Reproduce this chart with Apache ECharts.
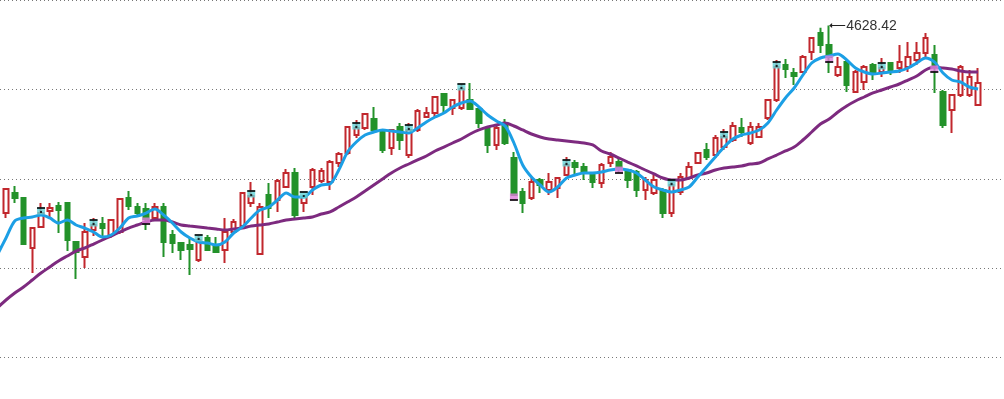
<!DOCTYPE html>
<html><head><meta charset="utf-8">
<script src="https://cdn.jsdelivr.net/npm/echarts@6/dist/echarts.min.js"></script>
<style>html,body{margin:0;padding:0;background:#fff}#c{width:1004px;height:399px}</style>
</head><body><div id="c"></div>
<script>
// one candle per trading day, [open, close, lowest, highest]; the first one is only partly in view
const ohlc = [
[4206.9,4233.0,4196.8,4241.1],
[4251.1,4299.5,4241.1,4301.5],[4291.4,4281.3,4271.3,4305.5],[4281.3,4188.7,4186.7,4283.4],[4180.7,4220.9,4130.3,4223.0],
[4223.0,4251.1,4220.9,4271.3],[4255.2,4261.2,4243.1,4271.3],[4265.2,4257.2,4210.9,4273.3],[4271.3,4196.8,4174.6,4273.3],
[4192.8,4172.6,4118.3,4194.0],[4162.6,4212.9,4140.4,4231.0],[4216.9,4227.0,4204.8,4241.1],[4229.0,4220.9,4202.8,4243.1],
[4206.9,4237.0,4200.8,4239.0],[4212.9,4279.3,4208.9,4281.3],[4281.3,4265.2,4257.2,4295.4],[4263.2,4251.1,4247.1,4271.3],
[4259.2,4239.1,4216.9,4271.3],[4241.1,4263.2,4237.0,4271.3],[4263.2,4192.8,4162.6,4271.3],[4206.9,4190.7,4170.6,4216.9],
[4190.7,4176.6,4156.5,4192.8],[4186.7,4178.7,4126.3,4200.8],[4156.5,4196.8,4152.5,4204.8],[4200.8,4176.6,4174.6,4206.9],
[4186.7,4172.6,4170.6,4202.8],[4176.6,4212.9,4150.5,4241.1],[4212.9,4233.0,4210.9,4239.1],[4225.0,4291.4,4220.9,4291.4],
[4271.3,4285.4,4263.2,4313.6],[4168.6,4263.2,4166.6,4271.3],[4287.4,4261.2,4241.1,4311.5],[4277.3,4315.6,4253.2,4319.6],
[4303.5,4331.7,4301.5,4339.7],[4331.7,4247.1,4241.1,4341.7],[4271.3,4283.4,4253.2,4285.4],[4303.5,4337.7,4287.4,4341.7],
[4315.6,4335.7,4311.5,4341.7],[4313.6,4353.8,4297.5,4357.9],[4351.8,4369.9,4343.8,4374.0],[4371.9,4424.3,4367.9,4426.3],
[4408.2,4422.3,4402.2,4438.4],[4422.3,4450.5,4418.3,4452.5],[4440.4,4418.3,4414.2,4464.6],[4414.2,4378.0,4371.9,4418.3],
[4382.0,4418.3,4367.9,4420.3],[4424.3,4398.1,4378.0,4432.4],[4367.9,4418.3,4361.9,4432.4],[4418.3,4456.5,4414.2,4460.5],
[4444.4,4452.5,4442.4,4464.6],[4452.5,4484.7,4444.4,4486.7],[4490.7,4468.6,4452.5,4492.7],[4462.6,4478.7,4448.5,4480.7],
[4462.6,4500.8,4458.5,4510.9],[4478.7,4460.5,4458.5,4512.9],[4460.5,4432.4,4422.3,4462.6],[4422.3,4388.1,4371.9,4424.3],
[4388.1,4422.3,4378.0,4428.3],[4428.3,4392.1,4388.1,4440.4],[4361.9,4287.4,4285.4,4374.0],[4293.4,4271.3,4251.1,4301.5],
[4281.3,4313.6,4277.3,4321.6],[4317.6,4307.5,4291.4,4321.6],[4297.5,4313.6,4287.4,4331.7],[4301.5,4321.6,4281.3,4323.6],
[4327.7,4347.8,4325.7,4363.9],[4351.8,4343.8,4327.7,4357.9],[4343.8,4331.7,4317.6,4351.8],[4327.7,4313.6,4301.5,4333.7],
[4311.5,4347.8,4301.5,4351.8],[4351.8,4363.9,4343.8,4374.0],[4353.8,4341.7,4331.7,4359.9],[4337.7,4317.6,4301.5,4339.7],
[4333.7,4297.5,4283.4,4337.7],[4297.5,4317.6,4277.3,4323.6],[4291.4,4317.6,4287.4,4327.7],[4297.5,4251.1,4241.1,4301.5],
[4251.1,4307.5,4243.1,4313.6],[4293.4,4323.6,4287.4,4331.7],[4321.6,4343.8,4317.6,4353.8],[4351.8,4371.9,4349.8,4374.0],
[4378.0,4363.9,4357.9,4392.1],[4367.9,4402.2,4361.9,4408.2],[4384.0,4404.2,4378.0,4420.3],[4398.1,4426.3,4394.1,4434.4],
[4422.3,4414.2,4404.2,4442.4],[4392.1,4424.3,4388.1,4434.4],[4404.2,4424.3,4402.2,4432.4],[4442.4,4478.7,4438.4,4480.7],
[4478.7,4545.1,4474.6,4559.2],[4549.1,4541.1,4523.0,4561.2],[4533.0,4527.0,4508.9,4543.1],[4535.0,4565.2,4533.0,4569.3],
[4575.3,4603.5,4559.2,4605.5],[4613.6,4589.4,4573.3,4624.0],[4589.4,4565.2,4533.0,4628.42],[4529.0,4545.1,4525.0,4565.2],
[4555.2,4508.9,4494.8,4559.2],[4494.8,4535.0,4492.8,4539.1],[4514.9,4545.1,4498.8,4549.1],[4549.1,4533.0,4518.9,4553.2],
[4535.0,4543.1,4525.0,4563.2],[4553.2,4535.0,4529.0,4555.2],[4543.1,4555.2,4533.0,4589.4],[4545.1,4565.2,4535.0,4595.4],
[4559.2,4573.3,4549.1,4595.4],[4573.3,4603.5,4563.2,4613.6],[4569.3,4545.1,4492.8,4589.4],[4494.8,4428.3,4422.3,4498.8],
[4458.5,4488.7,4412.2,4490.7],[4488.7,4545.1,4484.7,4549.1],[4488.7,4525.0,4484.7,4539.1],[4468.6,4512.9,4466.6,4543.1]
];
const maShort = [
4166.6,4200.8,4235.0,4241.1,4243.1,4247.1,4241.1,4231.0,4237.0,4227.0,4220.9,4212.9,4202.8,4206.9,4220.9,4241.1,
4245.1,4251.1,4259.2,4247.1,4231.0,4212.9,4200.8,4192.8,4190.7,4186.7,4192.8,4210.9,4223.0,4241.1,4257.2,4263.2,
4277.3,4291.4,4283.4,4283.4,4297.5,4307.5,4309.5,4337.7,4374.0,4394.1,4408.2,4414.2,4418.3,4416.2,4414.2,4412.2,
4422.3,4434.4,4444.4,4452.5,4464.6,4472.6,4476.6,4464.6,4448.5,4436.4,4426.3,4392.1,4347.8,4323.6,4307.5,4293.4,
4303.5,4321.6,4327.7,4331.7,4331.7,4333.7,4337.7,4339.7,4337.7,4331.7,4317.6,4303.5,4297.5,4293.4,4297.5,4303.5,
4323.6,4343.8,4363.9,4384.0,4400.1,4408.2,4412.2,4418.3,4432.4,4458.5,4482.7,4502.8,4529.0,4553.2,4563.2,4567.2,
4571.3,4559.2,4543.1,4535.0,4531.0,4533.0,4535.0,4537.0,4543.1,4553.2,4563.2,4555.2,4533.0,4518.9,4514.9,4504.8,4500.8
];
const maLong = [
4059.9,4076.0,4090.1,4102.2,4116.2,4130.3,4142.4,4154.5,4164.6,4174.6,4180.7,4188.7,4196.8,4204.8,4212.9,4220.9,
4227.0,4233.0,4237.0,4237.0,4233.0,4227.0,4225.0,4223.0,4220.9,4218.9,4216.9,4218.9,4220.9,4225.0,4227.0,4229.0,
4233.0,4237.0,4239.1,4241.1,4243.1,4249.1,4253.2,4263.2,4273.3,4283.4,4295.4,4307.5,4319.6,4331.7,4341.7,4349.8,
4357.9,4365.9,4376.0,4384.0,4392.1,4400.1,4410.2,4418.3,4424.3,4428.3,4432.4,4426.3,4418.3,4410.2,4404.2,4400.1,
4398.1,4396.1,4394.1,4392.1,4388.1,4376.0,4369.9,4361.9,4353.8,4345.8,4337.7,4329.7,4321.6,4317.6,4317.6,4321.6,
4327.7,4331.7,4337.7,4341.7,4343.8,4345.8,4349.8,4351.8,4359.9,4367.9,4376.0,4384.0,4398.1,4414.2,4430.3,4440.4,
4454.5,4466.6,4476.6,4484.7,4492.8,4498.8,4504.8,4510.9,4518.9,4527.0,4539.1,4545.1,4543.1,4541.1,4537.0,4535.0,4535.0
];
// positions (in ohlc) of the signal markers
const upSignals = [5, 11, 23, 29, 35, 41, 47, 53, 65, 77, 83, 89, 101];
const downSignals = [17, 59, 71, 95, 107];
// y axis ticks
const yMin = 3960, yMax = 4680, yStep = 180;
// visible day window (first candle partly cut)
const dayFrom = -0.685, dayTo = 113.96;

const RED = '#c1272d', GREEN = '#23922a';
const day = i => i - 1;
const candles = ohlc.map((d, i) => [day(i), d[0], d[1], d[2], d[3]]);
const shortPts = maShort.map((v, i) => [day(i), v]);
const longPts = maLong.map((v, i) => [day(i), v]);
const upPts = upSignals.map(i => [day(i), ohlc[i][1]]);
const downPts = downSignals.map(i => [day(i), ohlc[i][1]]);

const chart = echarts.init(document.getElementById('c'), null, {renderer: 'canvas'});
chart.setOption({
  animation: false,
  backgroundColor: '#fff',
  grid: {left: 0, right: 0, top: -1, bottom: 41.4},
  xAxis: {type: 'value', min: dayFrom, max: dayTo, show: false, splitLine: {show: false}},
  yAxis: {
    type: 'value', min: yMin, max: yMax, interval: yStep,
    axisLine: {show: false}, axisTick: {show: false}, axisLabel: {show: false},
    splitLine: {show: true, lineStyle: {color: '#777', type: [1, 3], width: 1}}
  },
  series: [
    {
      type: 'candlestick', data: candles, barWidth: 5, clip: true,
      encode: {x: 0, y: [1, 2, 3, 4]},
      itemStyle: {color: '#ffffff', color0: GREEN, borderColor: RED, borderColor0: GREEN, borderWidth: 2},
      markPoint: {
        data: [{type: 'max', valueDim: 'highest'}],
        symbol: 'path://M0,3 L4,0 L4,2.4 L22,2.4 L22,3.6 L4,3.6 L4,6 Z',
        symbolSize: [16, 5], symbolOffset: [8, 0], symbolKeepAspect: false,
        itemStyle: {color: '#222'},
        label: {show: true, position: 'right', distance: 1, offset: [0, 1], color: '#333', fontSize: 14,
                fontFamily: 'Liberation Sans, Arial, sans-serif',
                formatter: p => p.value}
      },
      z: 2
    },
    {type: 'line', data: longPts, smooth: 0.3, showSymbol: false, lineStyle: {color: '#7d2a7f', width: 3}, z: 3},
    {type: 'line', data: shortPts, smooth: 0.3, showSymbol: false, lineStyle: {color: '#1c9fe5', width: 3}, z: 4},
    {type: 'scatter', data: upPts, symbol: 'rect', symbolSize: [8, 7], symbolOffset: [0, -2], itemStyle: {color: '#63d2d6'}, z: 5},
    {type: 'scatter', data: upPts, symbol: 'rect', symbolSize: [8, 2], symbolOffset: [0, -5], itemStyle: {color: '#000'}, z: 6},
    {type: 'scatter', data: upPts, symbol: 'rect', symbolSize: [2, 2], symbolOffset: [0, -1], itemStyle: {color: '#000'}, z: 6},
    {type: 'scatter', data: downPts, symbol: 'rect', symbolSize: [8, 7], symbolOffset: [0, 2], itemStyle: {color: '#e07fdc'}, z: 5},
    {type: 'scatter', data: downPts, symbol: 'rect', symbolSize: [8, 2], symbolOffset: [0, 5], itemStyle: {color: '#000'}, z: 6}
  ]
});
</script></body></html>
